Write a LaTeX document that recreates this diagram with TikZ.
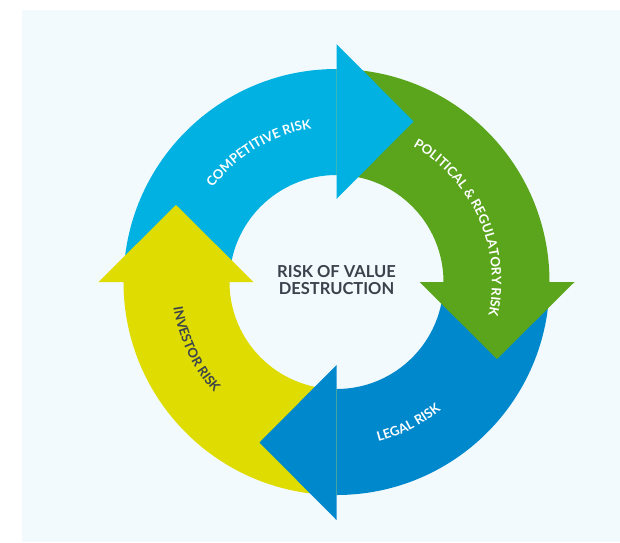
\documentclass[tikz,border=0pt]{standalone}
\usepackage{fontspec}
\setmainfont{Lato}
\usepackage{tikz}
\usetikzlibrary{calc,decorations.text}

\definecolor{bgblue}{RGB}{242,250,253}
\definecolor{compblue}{RGB}{0,177,225}
\definecolor{polgreen}{RGB}{90,165,28}
\definecolor{legalblue}{RGB}{0,136,204}
\definecolor{invyellow}{RGB}{222,220,0}
\definecolor{textgray}{RGB}{58,66,76}

\newcommand{\bandin}{107}
\newcommand{\bandout}{213}
\newcommand{\headin}{83}
\newcommand{\headout}{238}
\newcommand{\headlen}{77}
\newcommand{\midr}{160.5}
\newcommand{\labelfont}{\bfseries\fontsize{13}{14}\selectfont}

\begin{document}
\begin{tikzpicture}[x=1pt,y=1pt,inner sep=0pt,outer sep=0pt]
    \useasboundingbox (-336.5,-260) rectangle (283.5,282);
    \fill[bgblue] (-314.5,-260) rectangle (283.5,272);

    % competitive risk
    \fill[compblue] (180:\bandout) arc[start angle=180, end angle=90, radius=\bandout]
      -- (90:\bandin) arc[start angle=90, end angle=180, radius=\bandin] -- cycle;
    % political & regulatory risk
    \fill[polgreen] (90:\bandout) arc[start angle=90, end angle=0, radius=\bandout]
      -- (0:\bandin) arc[start angle=0, end angle=90, radius=\bandin] -- cycle;
    % legal risk
    \fill[legalblue] (0:\bandout) arc[start angle=0, end angle=-90, radius=\bandout]
      -- (-90:\bandin) arc[start angle=-90, end angle=0, radius=\bandin] -- cycle;
    % investor risk
    \fill[invyellow] (-90:\bandout) arc[start angle=-90, end angle=-180, radius=\bandout]
      -- (-180:\bandin) arc[start angle=-180, end angle=-90, radius=\bandin] -- cycle;

    % arrow heads
    \fill[compblue] (0,\headin) -- (\headlen,\midr) -- (0,\headout) -- cycle;
    \fill[polgreen] (\headin,0) -- (\headout,0) -- (\midr,-\headlen) -- cycle;
    \fill[legalblue] (0,-\headin) -- (0,-\headout) -- (-\headlen,-\midr) -- cycle;
    \fill[invyellow] (-\headin,0) -- (-\headout,0) -- (-\midr,\headlen) -- cycle;

    % labels on the ring
    \path[decorate, decoration={text along path, text align=center,
      text={|\labelfont\color{white}|COMPETITIVE RISK}}]
      (161:155.5) arc[start angle=161, end angle=81, radius=155.5];
    \path[decorate, decoration={text along path, text align=center,
      text={|\labelfont\color{white}|POLITICAL {\&} REGULATORY RISK}}]
      (70:155.5) arc[start angle=70, end angle=-22, radius=155.5];
    \path[decorate, decoration={text along path, text align=center,
      text={|\labelfont\color{white}|LEGAL RISK}}]
      (-93:165) arc[start angle=-93, end angle=-33, radius=165];
    \path[decorate, decoration={text along path, text align=center,
      text={|\labelfont\color{textgray}|INVESTOR RISK}}]
      (175:165) arc[start angle=175, end angle=236, radius=165];

    % centre
    \node[align=center, text=textgray, font=\bfseries\fontsize{16.5}{17}\selectfont]
      (value_destruction) at (0,1.5) {RISK OF VALUE\\DESTRUCTION};
\end{tikzpicture}
\end{document}
